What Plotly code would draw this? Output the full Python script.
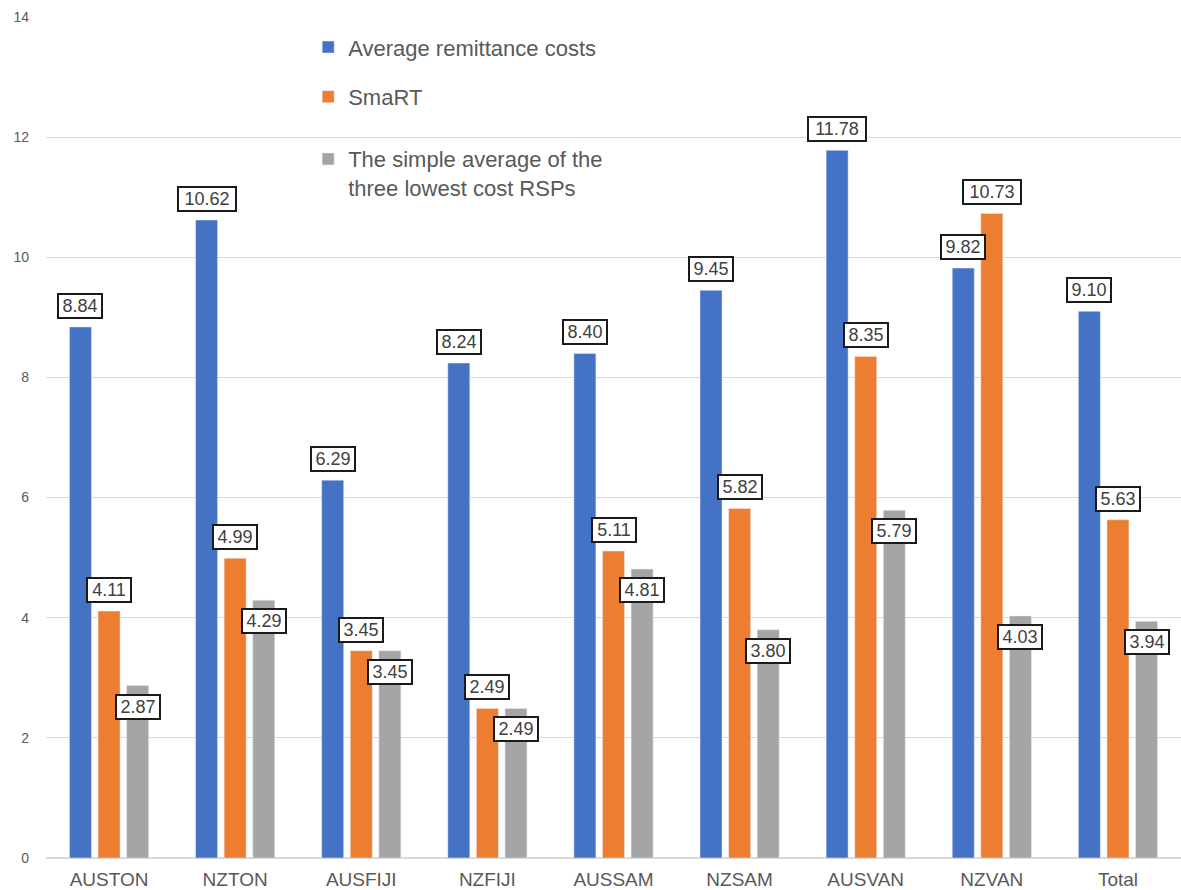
import plotly.graph_objects as go

categories = ["AUSTON", "NZTON", "AUSFIJI", "NZFIJI", "AUSSAM", "NZSAM", "AUSVAN", "NZVAN", "Total"]
avg_costs = [8.84, 10.62, 6.29, 8.24, 8.40, 9.45, 11.78, 9.82, 9.10]
smart = [4.11, 4.99, 3.45, 2.49, 5.11, 5.82, 8.35, 10.73, 5.63]
three_lowest = [2.87, 4.29, 3.45, 2.49, 4.81, 3.80, 5.79, 4.03, 3.94]

series_names = ["Average remittance costs", "SmaRT",
                "The simple average of the<br>three lowest cost RSPs"]
colors = ["#4472C4", "#ED7D31", "#A5A5A5"]
series = [avg_costs, smart, three_lowest]
legend_ids = ["legend", "legend", "legend2"]

BARGAP = 0.32
BARGROUPGAP = 0.23
FONT = "Liberation Sans, Arial, sans-serif"

fig = go.Figure()
for k, (name, vals, col, lg) in enumerate(zip(series_names, series, colors, legend_ids)):
    fig.add_trace(go.Bar(
        x=categories, y=vals, name=name, marker_color=col,
        legendgroup=f"g{k}", legend=lg, hoverinfo="x+y",
    ))

annotations = []
slot = (1 - BARGAP) / 3
for k, vals in enumerate(series):
    for i, v in enumerate(vals):
        inside = (k == 2)
        txt = f"{v:.2f}"
        annotations.append(dict(
            x=i + (k - 1) * slot, y=v, xref="x", yref="y",
            text=txt, showarrow=False,
            yanchor="middle", yshift=(-21 if inside else 21),
            font=dict(family=FONT, size=18, color="#404040"),
            bgcolor="white", bordercolor="#1a1a1a", borderwidth=2,
            borderpad=1, width=(54 if len(txt) == 5 else 40),
        ))

legend_style = dict(
    xanchor="left", yanchor="top", bgcolor="rgba(0,0,0,0)",
    font=dict(size=22, color="#595959"), valign="top",
)

fig.update_layout(
    width=1181, height=890,
    margin=dict(l=46, r=0, t=17, b=32),
    paper_bgcolor="white", plot_bgcolor="white",
    barmode="group", bargap=BARGAP, bargroupgap=BARGROUPGAP,
    font=dict(family=FONT, color="#595959"),
    annotations=annotations,
    legend=dict(x=0.231, y=0.989, tracegroupgap=18, **legend_style),
    legend2=dict(x=0.231, y=0.856, **legend_style),
    xaxis=dict(
        tickfont=dict(size=19, color="#595959"), showgrid=False,
        showline=True, linecolor="#D9D9D9", ticks="", ticklabelstandoff=4,
    ),
    yaxis=dict(
        range=[0, 14], dtick=2, tickfont=dict(size=14, color="#595959"),
        showgrid=True, gridcolor="#D9D9D9", gridwidth=1,
        zeroline=True, zerolinecolor="#D9D9D9", ticks="", ticklabelstandoff=16,
    ),
)

fig.write_html("out.html")
